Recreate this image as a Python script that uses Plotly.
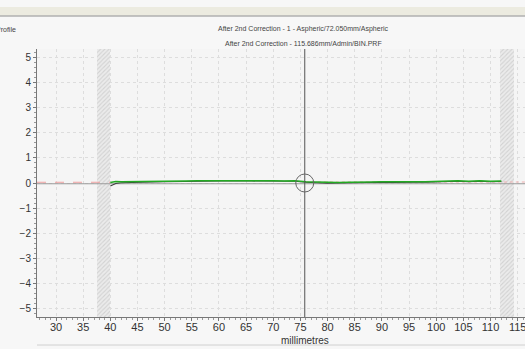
import plotly.graph_objects as go

# ---- data ----
x_meas = [40, 41, 42, 44, 46, 48, 50, 52, 54, 56, 58, 60, 62, 64, 66, 68, 70, 72, 74, 76,
          78, 80, 82, 84, 86, 88, 90, 92, 94, 96, 98, 100, 102, 104, 106, 108, 110, 112]
green = [0.02, 0.06, 0.05, 0.05, 0.06, 0.05, 0.07, 0.08, 0.08, 0.09, 0.09, 0.10, 0.10, 0.11, 0.10,
         0.10, 0.09, 0.08, 0.09, 0.05, 0.03, 0.02, 0.02, 0.03, 0.02, 0.04, 0.05, 0.04, 0.06, 0.05,
         0.05, 0.06, 0.07, 0.09, 0.07, 0.09, 0.07, 0.08]
black = [-0.12, -0.02, 0.01, 0.03, 0.04, 0.04, 0.05, 0.06, 0.06, 0.07, 0.07, 0.08, 0.08, 0.09, 0.08,
         0.08, 0.07, 0.06, 0.07, 0.03, 0.0, -0.01, 0.0, 0.01, 0.0, 0.02, 0.03, 0.02, 0.04, 0.03,
         0.03, 0.04, 0.05, 0.07, 0.05, 0.07, 0.05, 0.06]
x_ref_left = [26.5, 40]
ref_left = [0.03, 0.03]
x_ref_right = [76, 116.5]
ref_right = [0.04, 0.04]
x_zero = [26.5, 116.5]
zero = [-0.03, -0.03]
band_centers = [38.75, 113.0]
band_widths = [2.5, 2.6]
cursor_x = 75.8
x_ticks = [30, 35, 40, 45, 50, 55, 60, 65, 70, 75, 80, 85, 90, 95, 100, 105, 110, 115]
y_ticks = [-5, -4, -3, -2, -1, 0, 1, 2, 3, 4, 5]
y_range = [-5.35, 5.35]
x_range = [26.5, 116.35]

W, H = 525, 349
ML, MR, MT, MB = 37, 0, 49, 32
pw, ph = W - ML - MR, H - MT - MB


def px(x):
    return (x - ML) / pw


def py(y):
    return (H - MB - y) / ph


fig = go.Figure()

# hatched bands
fig.add_trace(go.Bar(x=band_centers, y=[y_range[1] - y_range[0]] * 2, base=y_range[0],
                     width=band_widths,
                     marker=dict(color="#e6e6e6", line=dict(width=0),
                                 pattern=dict(shape="/", fgcolor="#b8b8b8", bgcolor="#ebebeb",
                                              size=3, solidity=0.35)),
                     hoverinfo="skip", showlegend=False))

fig.add_trace(go.Scatter(x=x_zero, y=zero, mode="lines",
                         line=dict(color="#9a9a9a", width=1.2), showlegend=False))
fig.add_trace(go.Scatter(x=x_ref_left, y=ref_left, mode="lines",
                         line=dict(color="#f0a0a0", width=1, dash="dash"), showlegend=False))
fig.add_trace(go.Scatter(x=x_ref_right, y=ref_right, mode="lines",
                         line=dict(color="#f0b0b0", width=1, dash="dot"), showlegend=False))
fig.add_trace(go.Scatter(x=x_meas, y=black, mode="lines",
                         line=dict(color="#404040", width=1.2), showlegend=False))
fig.add_trace(go.Scatter(x=x_meas, y=green, mode="lines",
                         line=dict(color="#22aa22", width=1.4), showlegend=False))

# cursor
fig.add_shape(type="line", x0=cursor_x, x1=cursor_x, y0=y_range[0], y1=y_range[1],
              line=dict(color="#555555", width=1))
fig.add_shape(type="circle", xsizemode="pixel", ysizemode="pixel",
              xanchor=cursor_x, yanchor=0, x0=-9, x1=9, y0=-9, y1=9,
              line=dict(color="#666666", width=1))

fig.update_layout(
    width=W, height=H,
    margin=dict(l=ML, r=MR, t=MT, b=MB, autoexpand=False),
    paper_bgcolor="#f7f7f7",
    plot_bgcolor="#f5f5f5",
    bargap=0,
    font=dict(family="Liberation Sans, Arial", size=11, color="#333333"),
    annotations=[
        dict(text="Profile", x=px(-6), y=py(29), xref="paper", yref="paper", showarrow=False,
             font=dict(size=7, color="#444444"), xanchor="left", yanchor="middle"),
        dict(text="After 2nd Correction - 1 - Aspheric/72.050mm/Aspheric", x=px(303), y=py(29),
             xref="paper", yref="paper", showarrow=False, yanchor="middle",
             font=dict(size=7, color="#444444")),
        dict(text="After 2nd Correction - 115.686mm/Admin/BIN.PRF", x=px(303), y=py(44),
             xref="paper", yref="paper", showarrow=False, yanchor="middle",
             font=dict(size=7, color="#444444")),
        dict(text="millimetres", x=px(305), y=py(340), xref="paper", yref="paper",
             showarrow=False, yanchor="middle", font=dict(size=10, color="#333333")),
    ],
)

fig.update_xaxes(range=x_range, tickvals=x_ticks, showgrid=True, automargin=False,
                 gridcolor="#dddddd", griddash="dot", gridwidth=1,
                 showline=True, linecolor="#777777", linewidth=1,
                 ticks="outside", ticklen=3, tickcolor="#777777",
                 ticklabeloverflow="allow", ticklabelstandoff=-3,
                 minor=dict(dtick=1, ticks="outside", ticklen=2, tickcolor="#999999", showgrid=False),
                 zeroline=False, tickfont=dict(size=11, color="#333333"))
fig.update_yaxes(range=y_range, tickvals=y_ticks, showgrid=True, automargin=False,
                 gridcolor="#dddddd", griddash="dot", gridwidth=1,
                 showline=True, linecolor="#777777", linewidth=1,
                 ticks="outside", ticklen=3, tickcolor="#777777",
                 minor=dict(dtick=0.2, ticks="outside", ticklen=2, tickcolor="#999999", showgrid=False),
                 zeroline=False, tickfont=dict(size=10, color="#333333"))

# top bars and bottom line
fig.add_shape(type="rect", xref="paper", yref="paper", x0=-0.1, x1=1.1,
              y0=py(16), y1=py(7),
              fillcolor="#ecebe0", line=dict(width=0), layer="below")
fig.add_shape(type="line", xref="paper", yref="paper", x0=-0.1, x1=1.1,
              y0=py(16), y1=py(16),
              line=dict(color="#b0b0b0", width=1.5))
fig.add_shape(type="line", xref="paper", yref="paper", x0=0, x1=1.1,
              y0=py(345), y1=py(345),
              line=dict(color="#d0d0d0", width=1))

fig.write_html("out.html")
